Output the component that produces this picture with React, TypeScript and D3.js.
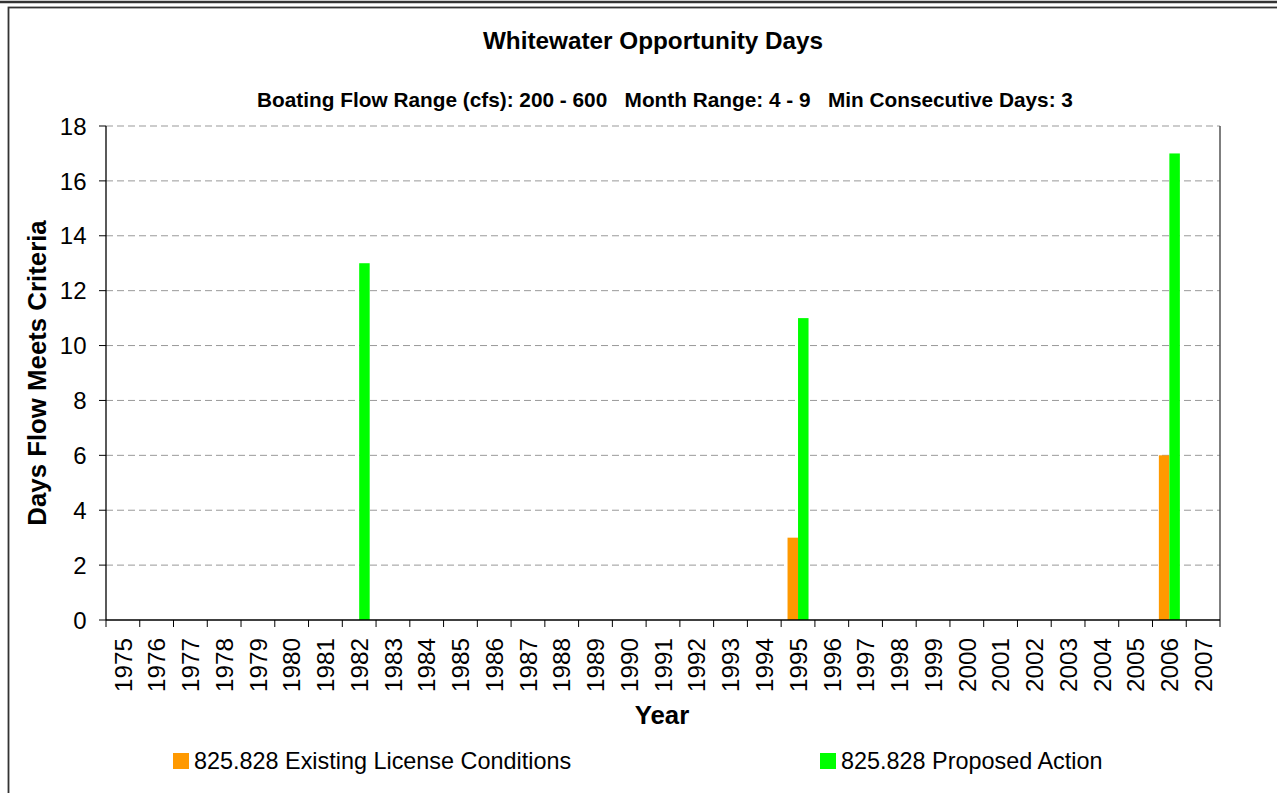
import React from "react";
import * as d3 from "d3";

const years: string[] = [
  "1975","1976","1977","1978","1979","1980","1981","1982","1983","1984","1985",
  "1986","1987","1988","1989","1990","1991","1992","1993","1994","1995","1996",
  "1997","1998","1999","2000","2001","2002","2003","2004","2005","2006","2007",
];
const existingYears = ["1982", "1995", "2006"];
const existingValues = [0, 3, 6];
const proposedYears = ["1982", "1995", "2006"];
const proposedValues = [13, 11, 17];
const yTicks = [0, 2, 4, 6, 8, 10, 12, 14, 16, 18];
const seriesNames = ["825.828 Existing License Conditions", "825.828 Proposed Action"];
const seriesColors = ["#ff9900", "#00ff00"];

const W = 1277;
const H = 793;
const plot = { left: 106, right: 1220, top: 126, bottom: 620 };
const FONT = "'Liberation Sans', Arial, Helvetica, sans-serif";

export default function App() {
  const x = d3.scaleBand<string>().domain(years).range([plot.left, plot.right]).paddingInner(0).paddingOuter(0);
  const y = d3.scaleLinear().domain([0, 18]).range([plot.bottom, plot.top]);
  const bw = x.bandwidth();
  const barW = 10.5;
  const x1 = d3.scaleBand<string>().domain(["existing", "proposed"]).range([bw / 2 - barW, bw / 2 + barW]);

  const series = [
    { key: "existing", yrs: existingYears, vals: existingValues, color: seriesColors[0] },
    { key: "proposed", yrs: proposedYears, vals: proposedValues, color: seriesColors[1] },
  ];

  const boundaries = years.map((yr) => x(yr) as number).concat([plot.right]);

  return (
    <svg width={W} height={H} style={{ position: "absolute", left: 0, top: 0, display: "block", fontFamily: FONT }}>
      <rect x={0} y={0} width={W} height={H} fill="#fff" />
      <line x1={0} x2={W} y1={2} y2={2} stroke="#333" strokeWidth={2.5} />
      <rect x={8.5} y={7.5} width={1300} height={820} fill="#fff" stroke="#333" strokeWidth={1.8} />

      <text x={653} y={49} textAnchor="middle" fontWeight="bold" fontSize={24.3} fill="#000">
        Whitewater Opportunity Days
      </text>
      <text x={665} y={107} textAnchor="middle" fontWeight="bold" fontSize={20.8} fill="#000" style={{ whiteSpace: "pre" }}>
        {"Boating Flow Range (cfs): 200 - 600   Month Range: 4 - 9   Min Consecutive Days: 3"}
      </text>

      {/* gridlines */}
      {yTicks.filter((t) => t > 0).map((t) => (
        <line key={"g" + t} x1={plot.left} x2={plot.right} y1={y(t)} y2={y(t)} stroke="#999" strokeWidth={1} strokeDasharray="7,4" />
      ))}

      {/* bars */}
      {series.map((s) =>
        s.yrs.map((yr, i) => {
          const v = s.vals[i];
          if (v <= 0) return null;
          return (
            <rect
              key={s.key + yr}
              x={(x(yr) as number) + (x1(s.key) as number)}
              y={y(v)}
              width={x1.bandwidth()}
              height={y(0) - y(v)}
              fill={s.color}
            />
          );
        })
      )}

      {/* right border */}
      <line x1={plot.right} x2={plot.right} y1={plot.top} y2={plot.bottom} stroke="#555" strokeWidth={1.5} />

      {/* y axis */}
      <line x1={plot.left} x2={plot.left} y1={plot.top} y2={plot.bottom} stroke="#000" strokeWidth={1.3} />
      {yTicks.map((t) => (
        <g key={"yt" + t}>
          <line x1={plot.left - 7} x2={plot.left} y1={y(t)} y2={y(t)} stroke="#000" strokeWidth={1} />
          <text x={86.5} y={y(t)} dy="0.36em" textAnchor="end" fontSize={24} fill="#000">
            {t}
          </text>
        </g>
      ))}

      {/* x axis */}
      <line x1={plot.left} x2={plot.right} y1={plot.bottom} y2={plot.bottom} stroke="#000" strokeWidth={1.3} />
      {boundaries.map((bx, i) => (
        <line key={"xt" + i} x1={bx} x2={bx} y1={plot.bottom} y2={plot.bottom + 7} stroke="#000" strokeWidth={1} />
      ))}
      {years.map((yr) => {
        const cx = (x(yr) as number) + bw / 2;
        const ty = 638;
        return (
          <text key={"xl" + yr} x={cx} y={ty} dy="0.36em" textAnchor="end" fontSize={24.3} fill="#000" transform={`rotate(-90, ${cx}, ${ty})`}>
            {yr}
          </text>
        );
      })}

      <text x={662} y={724} textAnchor="middle" fontWeight="bold" fontSize={25.8} fill="#000">
        Year
      </text>
      <text transform={`translate(46, ${(plot.top + plot.bottom) / 2}) rotate(-90)`} textAnchor="middle" fontWeight="bold" fontSize={25.8} fill="#000">
        Days Flow Meets Criteria
      </text>

      {/* legend */}
      {[173, 820].map((lx, i) => (
        <g key={"lg" + i}>
          <rect x={lx} y={753} width={16} height={16} fill={seriesColors[i]} />
          <text x={lx + 21} y={769} fontSize={23.4} fill="#000">
            {seriesNames[i]}
          </text>
        </g>
      ))}
    </svg>
  );
}
